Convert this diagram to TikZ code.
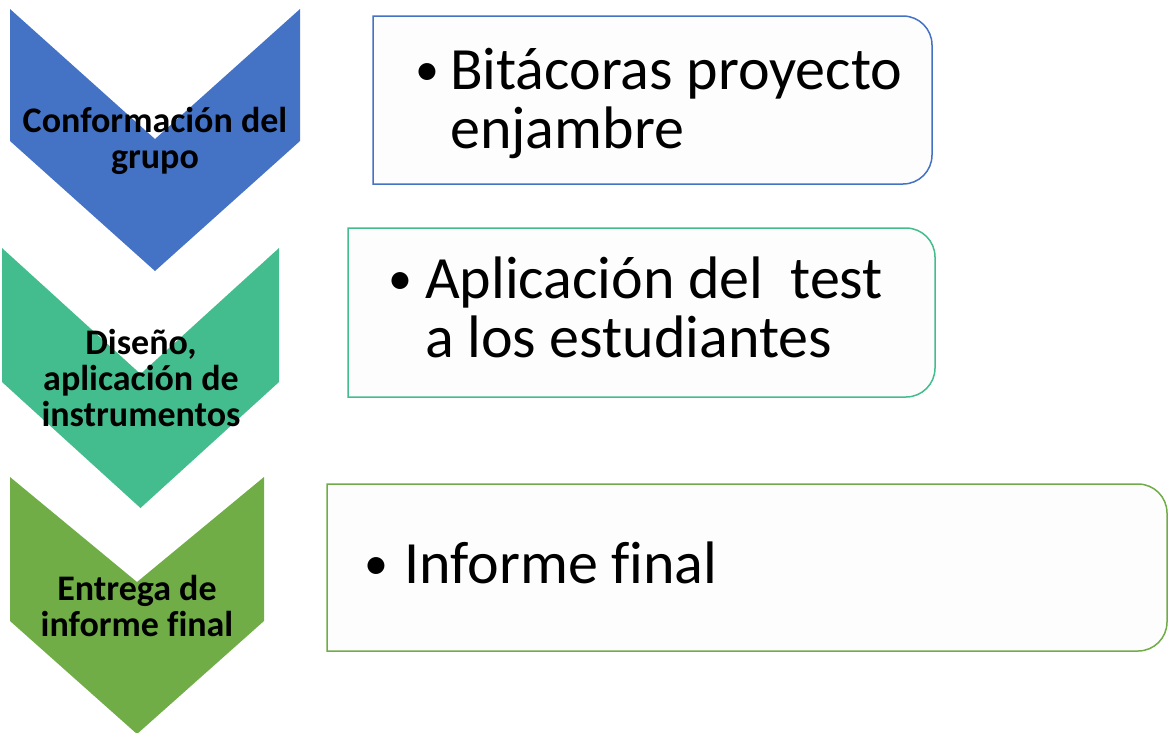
\documentclass[tikz,border=0pt]{standalone}
\usepackage{fontspec}
\setmainfont{Carlito}[Ligatures=NoCommon]

\definecolor{chevblue}{HTML}{4472C4}
\definecolor{chevteal}{HTML}{44BD8E}
\definecolor{chevgreen}{HTML}{70AD47}
\definecolor{boxfill}{HTML}{FDFDFD}

\tikzset{
    steplabel/.style={font=\bfseries\fontsize{36}{36}\selectfont, align=center, inner sep=0pt},
    itemline/.style={font=\fontsize{60}{62}\selectfont, anchor=base west, inner sep=0pt},
    itembullet/.style={font=\fontsize{48}{50}\selectfont, anchor=base, inner sep=0pt},
    itembox/.style={fill=boxfill, line width=1.5pt}
}

\begin{document}
\begin{tikzpicture}[x=1pt, y=-1pt]
    \useasboundingbox (0,0) rectangle (1172,732);
    \clip (0,0) rectangle (1172,732);

    % chevrons
    \fill[chevblue] (10,9) -- (155,139) -- (300,9) -- (300,141) -- (155,271) -- (10,141) -- cycle;
    \fill[chevteal] (2,248) -- (140.5,374) -- (279,248) -- (279,382) -- (140.5,508) -- (2,382) -- cycle;
    \fill[chevgreen] (10,477) -- (137,582) -- (264,477) -- (264,621) -- (137,734) -- (10,621) -- cycle;

    \node[steplabel] (grupo) at (155,141) {Conformación del\\grupo};
    \node[steplabel] (diseno) at (141,378) {Diseño,\\aplicación de\\instrumentos};
    \node[steplabel] (entrega) at (137,606) {Entrega de\\informe final};

    % boxes
    \draw[itembox, draw=chevblue] (373,16) [rounded corners=29pt] -- (932,16) -- (932,184) [sharp corners] -- (373,184) -- cycle;
    \draw[itembox, draw=chevteal] (348,228) [rounded corners=29pt] -- (935,228) -- (935,397) [sharp corners] -- (348,397) -- cycle;
    \draw[itembox, draw=chevgreen] (327,484) [rounded corners=29pt] -- (1167,484) -- (1167,651) [sharp corners] -- (327,651) -- cycle;

    \node[itembullet] (b1) at (427,85) {\textbullet};
    \node[itemline] (bitacoras) at (450,89) {Bitácoras proyecto};
    \node[itemline] (enjambre) at (450,148) {enjambre};

    \node[itembullet] (b2) at (400,294) {\textbullet};
    \node[itemline] (aplicacion) at (425,298) {Aplicación del \ test};
    \node[itemline] (estudiantes) at (425,357) {a los estudiantes};

    \node[itembullet] (b3) at (376,579) {\textbullet};
    \node[itemline] (informe) at (404,583) {Informe final};
\end{tikzpicture}
\end{document}
